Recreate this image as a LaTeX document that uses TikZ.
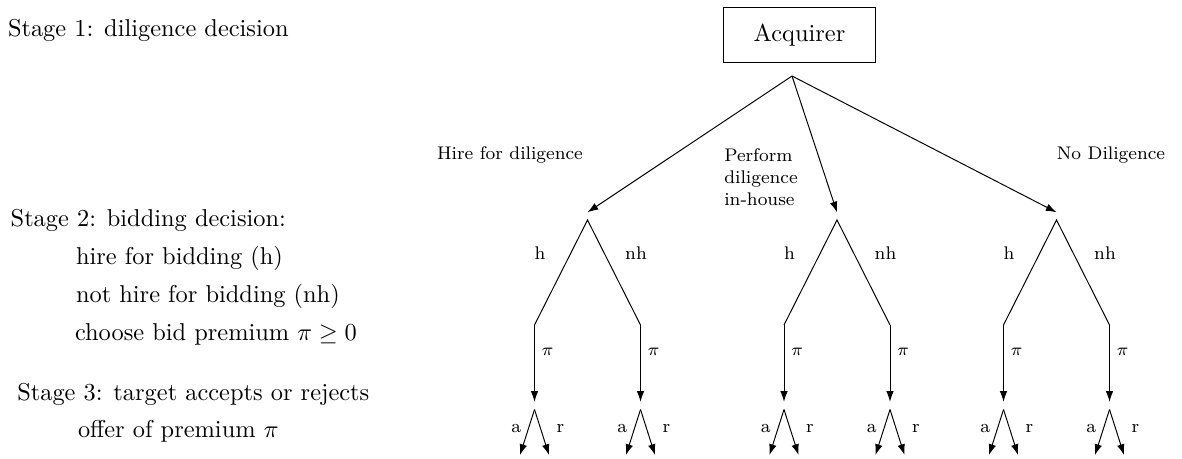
\documentclass[tikz,border=0pt]{standalone}
\usetikzlibrary{arrows.meta}
\begin{document}
\begin{tikzpicture}[x=0.41pt,y=-0.41pt,
  every node/.style={inner sep=0pt, outer sep=0pt},
  lbl/.style={font=\fontsize{7.5pt}{9pt}\selectfont},
  stagetxt/.style={anchor=base west},
  apex/.style={inner sep=0pt, outer sep=0pt, minimum width=0pt, minimum height=6.3pt},
  arr/.style={-{Latex[length=4.4pt,width=3.1pt]}},
  box/.style={draw, minimum width=62.3pt, minimum height=22.5pt}]
\useasboundingbox (0,0) rectangle (1182,458);
% stage descriptions
\node[stagetxt] (s1) at (8,36.7) {Stage 1: diligence decision};
\node[stagetxt] (s2) at (10.7,226.7) {Stage 2: bidding decision:};
\node[stagetxt] (s2a) at (76,264.3) {hire for bidding (h)};
\node[stagetxt] (s2b) at (76,302.7) {not hire for bidding (nh)};
\node[stagetxt] (s2c) at (75,340) {choose bid premium $\pi \geq 0$};
\node[stagetxt] (s3) at (17.3,400) {Stage 3: target accepts or rejects};
\node[stagetxt] (s3a) at (78,437.7) {offer of premium $\pi$};
% root
\node[box] (acq) at (799.5,34.7) {Acquirer};
\coordinate (root) at (792,76);
% first-level apexes
\node[apex] (L) at (587.5,220) {};
\node[apex] (M) at (837,220) {};
\node[apex] (R) at (1056.5,220) {};
\draw[arr] (root) -- (L.north);
\draw[arr] (root) -- (M.north);
\draw[arr] (root) -- (R.north);
\node[lbl] (tL) at (510,155) {Hire for diligence};
\node[lbl, anchor=west, align=left] (tM) at (724.3,177) {Perform\\diligence\\in-house};
\node[lbl] (tR) at (1111,155) {No Diligence};
% subtrees
\foreach \n/\x in {L/587.5, M/837, R/1056.5} {
  \coordinate (\n h) at (\x-53,325);
  \coordinate (\n nh) at (\x+53,325);
  \draw (\n h) -- (\n.center) -- (\n nh);
  \node[lbl] (\n hl) at (\x-47.5,253.3) {h};
  \node[lbl] (\n nhl) at (\x+48.5,253.3) {nh};
  \foreach \b/\bx in {h/-53, nh/53} {
    \node[apex] (\n\b s) at (\x+\bx,409.5) {};
    \draw[arr] (\n\b) -- (\n\b s.north);
    \node[lbl] (\n\b pi) at (\x+\bx+13,351.7) {$\pi$};
    \coordinate (\n\b a) at (\x+\bx-14.5,455);
    \coordinate (\n\b r) at (\x+\bx+14.5,455);
    \draw[arr] (\n\b s.center) -- (\n\b a);
    \draw[arr] (\n\b s.center) -- (\n\b r);
    \node[lbl] (\n\b al) at (\x+\bx-18.3,428.3) {a};
    \node[lbl] (\n\b rl) at (\x+\bx+26,428.3) {r};
  }
}
\end{tikzpicture}
\end{document}
